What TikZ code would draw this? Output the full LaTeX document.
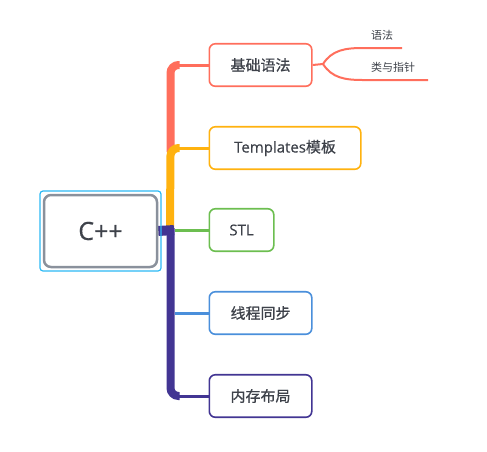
\documentclass[tikz,border=0pt]{standalone}
\usepackage{fontspec}
\setmainfont{Open Sans}
\newfontfamily\topicfont[FakeBold=0.6]{Open Sans}
\newfontfamily\cjk[FakeBold=0.6]{Noto Sans CJK SC}
\newfontfamily\cjkleaf{Noto Sans CJK SC}
\usetikzlibrary{positioning,calc,backgrounds}
\definecolor{cRed}{RGB}{255,110,92}
\definecolor{cOrange}{RGB}{255,178,15}
\definecolor{cGreen}{RGB}{108,190,80}
\definecolor{cBlue}{RGB}{74,143,219}
\definecolor{cPurple}{RGB}{66,53,147}
\definecolor{cGray}{RGB}{138,145,156}
\definecolor{cFrame}{RGB}{43,185,244}
\definecolor{txtgray}{RGB}{62,66,74}
\tikzstyle{topic} = [draw, line width=1.6pt, rounded corners=6pt, minimum height=42.5pt, fill=white, text=txtgray, font=\topicfont\fontsize{15}{18}\selectfont, anchor=west]
\tikzstyle{leaf} = [text=txtgray, font=\cjkleaf\fontsize{11}{13}\selectfont, anchor=west, inner sep=0pt]
\tikzstyle{trunk} = [line width=8pt, rounded corners=8pt]
\tikzstyle{branch} = [line width=3pt]

\begin{document}
\begin{tikzpicture}[x=1pt,y=-1pt]
    \useasboundingbox (0,0) rectangle (487,451);
    % central topic
    \node[draw=cFrame, line width=1.2pt, rounded corners=3pt, minimum width=121pt, minimum height=80pt] (frame) at (100.5,231) {};
    \node[draw=cGray, line width=2.5pt, rounded corners=7pt, fill=white, minimum width=113pt, minimum height=72pt, text=txtgray, font=\topicfont\fontsize{25}{30}\selectfont] (cpp) at (100.5,231) {C++};
    % main branches
    \node[topic, draw=cRed, minimum width=102.5pt] (grammar) at (208.5,65) {\cjk 基础语法};
    \node[topic, draw=cOrange, minimum width=151.5pt] (tmpl) at (208.5,148) {Templates{\cjk 模板}};
    \node[topic, draw=cGreen, minimum width=64.5pt] (stl) at (208.5,230) {STL};
    \node[topic, draw=cBlue, minimum width=102.5pt] (sync) at (208.5,313) {\cjk 线程同步};
    \node[topic, draw=cPurple, minimum width=102.5pt] (mem) at (208.5,396) {\cjk 内存布局};
    % leaves
    \node[leaf] (syntax) at (371,35) {语法};
    \node[leaf] (cls) at (371,67) {类与指针};
    \coordinate (trunk) at (170.5,0);
    \coordinate (split) at (323,64);
    \coordinate (endA) at (402,48);
    \coordinate (endB) at (428,80);

    \begin{scope}[on background layer]
        \draw[trunk, cRed] (170.5,152) -- (grammar.west -| trunk) -- ++(9,0);
        \draw[branch, cRed] ($(grammar.west -| trunk)+(6,0)$) -- (grammar.west);
        \draw[trunk, cOrange] (170,229) -- (tmpl.west -| trunk) -- ++(9,0);
        \draw[branch, cOrange] ($(tmpl.west -| trunk)+(6,0)$) -- (tmpl.west);
        \draw[line width=10pt, cPurple] (cpp.east) -- (174,230);
        \draw[trunk, cPurple] (170.5,228) -- (mem.west -| trunk) -- ++(9,0);
        \draw[branch, cPurple] ($(mem.west -| trunk)+(6,0)$) -- (mem.west);
        \draw[branch, cGreen] ($(stl.west -| trunk)+(4,0)$) -- (stl.west);
        \draw[branch, cBlue] ($(sync.west -| trunk)+(4,0)$) -- (sync.west);
        \draw[line width=2pt, cRed] (grammar.east) -- (split);
        \draw[line width=2pt, cRed] (split) .. controls (332,50) and (345,48) .. (363,48) -- (endA);
        \draw[line width=2pt, cRed] (split) .. controls (332,78) and (345,80) .. (363,80) -- (endB);
    \end{scope}
\end{tikzpicture}
\end{document}
